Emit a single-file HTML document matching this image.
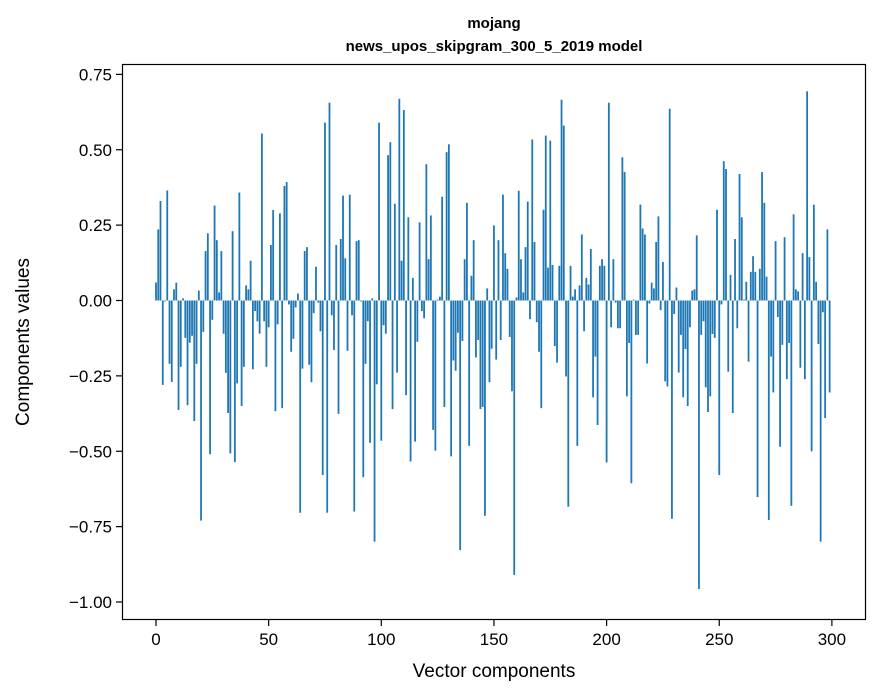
<!DOCTYPE html>
<html><head><meta charset="utf-8"><style>
html,body{margin:0;padding:0;background:#fff;}
svg{display:block;font-family:"Liberation Sans",sans-serif;}
</style></head><body>
<svg id="chart" width="880" height="696" viewBox="0 0 880 696">
<rect width="880" height="696" fill="#fff"/>
<text x="494" y="28" text-anchor="middle" font-size="15" font-weight="bold">mojang</text>
<text x="494" y="51" text-anchor="middle" font-size="15" font-weight="bold">news_upos_skipgram_300_5_2019 model</text>
<g id="bars"></g>
<g id="yticks"></g>
<g id="xticks"></g>
<rect x="122.5" y="64.5" width="743" height="555" fill="none" stroke="#000" stroke-width="1.2"/>
<text x="494" y="677" text-anchor="middle" font-size="19">Vector components</text>
<text transform="translate(29,342) rotate(-90)" text-anchor="middle" font-size="19">Components values</text>
</svg>
<script>
const values = [
0.06,0.236,0.33,-0.28,-0.003,0.365,-0.21,-0.27,0.037,0.059,
-0.363,-0.22,0.007,-0.124,-0.347,-0.14,-0.117,-0.40,-0.21,0.033,
-0.73,-0.104,0.164,0.223,-0.51,-0.064,0.315,0.2,0.027,0.164,
-0.11,-0.24,-0.373,-0.507,0.23,-0.536,-0.275,0.358,-0.35,-0.22,
0.05,0.037,0.132,-0.228,-0.035,-0.069,-0.11,0.554,-0.069,-0.22,
-0.089,0.184,0.30,-0.367,-0.079,0.289,-0.357,0.38,0.393,-0.013,
-0.17,-0.127,-0.023,0.023,-0.704,-0.226,0.164,0.177,-0.213,-0.271,
-0.042,0.112,-0.007,-0.102,-0.579,0.59,-0.704,0.656,-0.049,-0.164,
0.184,-0.376,0.204,0.348,0.14,-0.167,0.351,-0.049,-0.70,0.197,
0.2,-0.003,-0.586,-0.21,-0.069,-0.472,0.007,-0.80,-0.278,0.59,
-0.465,-0.082,-0.11,0.482,0.525,-0.36,0.321,-0.239,0.669,0.132,
0.632,-0.314,0.276,-0.534,0.075,-0.468,-0.137,0.259,-0.035,-0.059,
0.452,0.137,0.282,-0.429,-0.498,0.003,0.013,0.344,-0.353,0.492,
0.518,-0.517,-0.199,-0.233,-0.107,-0.828,-0.134,0.137,0.324,-0.482,
0.082,0.2,-0.189,-0.131,-0.36,-0.353,-0.714,0.04,-0.271,-0.16,
0.249,-0.196,0.2,-0.131,0.351,0.157,0.105,-0.121,-0.301,-0.91,
0.01,0.364,0.137,0.027,0.177,0.328,-0.062,0.534,0.194,-0.072,
-0.17,-0.357,0.301,0.547,0.109,0.53,0.118,-0.151,-0.206,0.115,
0.666,0.58,-0.252,-0.684,0.115,0.013,0.037,-0.482,0.05,0.219,
-0.102,0.075,0.053,0.171,-0.321,-0.186,-0.413,0.115,0.137,0.115,
-0.537,0.656,-0.089,0.137,-0.007,-0.092,-0.092,0.475,0.426,-0.318,
-0.141,-0.606,0.003,-0.114,-0.114,0.318,0.239,0.219,-0.209,-0.01,
0.059,0.04,0.194,0.279,-0.032,0.128,-0.268,-0.285,0.636,-0.724,
-0.045,0.043,-0.239,-0.114,-0.321,-0.161,-0.35,-0.089,0.033,0.037,
0.216,-0.957,-0.114,-0.069,-0.288,-0.37,-0.318,-0.111,-0.124,0.301,
-0.579,-0.013,0.462,0.436,-0.236,0.085,-0.373,0.204,-0.092,0.42,
0.276,0.003,0.062,-0.203,0.095,0.147,0.095,-0.652,0.105,0.426,
0.324,0.079,-0.728,-0.186,-0.305,0.197,-0.055,-0.485,-0.147,0.21,
-0.261,-0.141,-0.681,0.286,0.037,0.03,-0.223,0.157,-0.261,0.694,
0.144,-0.5,0.318,0.062,-0.144,-0.80,-0.039,-0.39,0.236,-0.305
];
const yTickValues = [0.75,0.5,0.25,0,-0.25,-0.5,-0.75,-1.0];
const yTickLabels = ["0.75","0.50","0.25","0.00","\u22120.25","\u22120.50","\u22120.75","\u22121.00"];
const xTickValues = [0,50,100,150,200,250,300];
const xTickLabels = ["0","50","100","150","200","250","300"];

const NS="http://www.w3.org/2000/svg";
function xs(i){return 156+2.253*i;}
function ys(v){return 300.5-v*301.5;}
const barW=2.253*0.8;
const gb=document.getElementById('bars');
values.forEach((v,i)=>{
  const r=document.createElementNS(NS,'rect');
  const y0=ys(0),y1=ys(v);
  r.setAttribute('x',xs(i)-barW/2);
  r.setAttribute('y',Math.min(y0,y1));
  r.setAttribute('width',barW);
  r.setAttribute('height',Math.max(Math.abs(y1-y0),0.3));
  r.setAttribute('fill','#1f77b4');
  
  
  gb.appendChild(r);
});
const gy=document.getElementById('yticks');
yTickValues.forEach((v,k)=>{
  const y=ys(v);
  const l=document.createElementNS(NS,'line');
  l.setAttribute('x1',116);l.setAttribute('x2',122);l.setAttribute('y1',y);l.setAttribute('y2',y);
  l.setAttribute('stroke','#000');l.setAttribute('stroke-width','1.2');
  
  
  gy.appendChild(l);
  const t=document.createElementNS(NS,'text');
  t.setAttribute('x',112);t.setAttribute('y',y+6);t.setAttribute('text-anchor','end');t.setAttribute('font-size','17');
  t.textContent=yTickLabels[k];
  
  
  gy.appendChild(t);
});
const gx=document.getElementById('xticks');
xTickValues.forEach((v,k)=>{
  const x=xs(v);
  const l=document.createElementNS(NS,'line');
  l.setAttribute('x1',x);l.setAttribute('x2',x);l.setAttribute('y1',620);l.setAttribute('y2',626);
  l.setAttribute('stroke','#000');l.setAttribute('stroke-width','1.2');
  
  
  gx.appendChild(l);
  const t=document.createElementNS(NS,'text');
  t.setAttribute('x',x);t.setAttribute('y',645);t.setAttribute('text-anchor','middle');t.setAttribute('font-size','17');
  t.textContent=xTickLabels[k];
  
  
  gx.appendChild(t);
});
</script>
</body></html>
